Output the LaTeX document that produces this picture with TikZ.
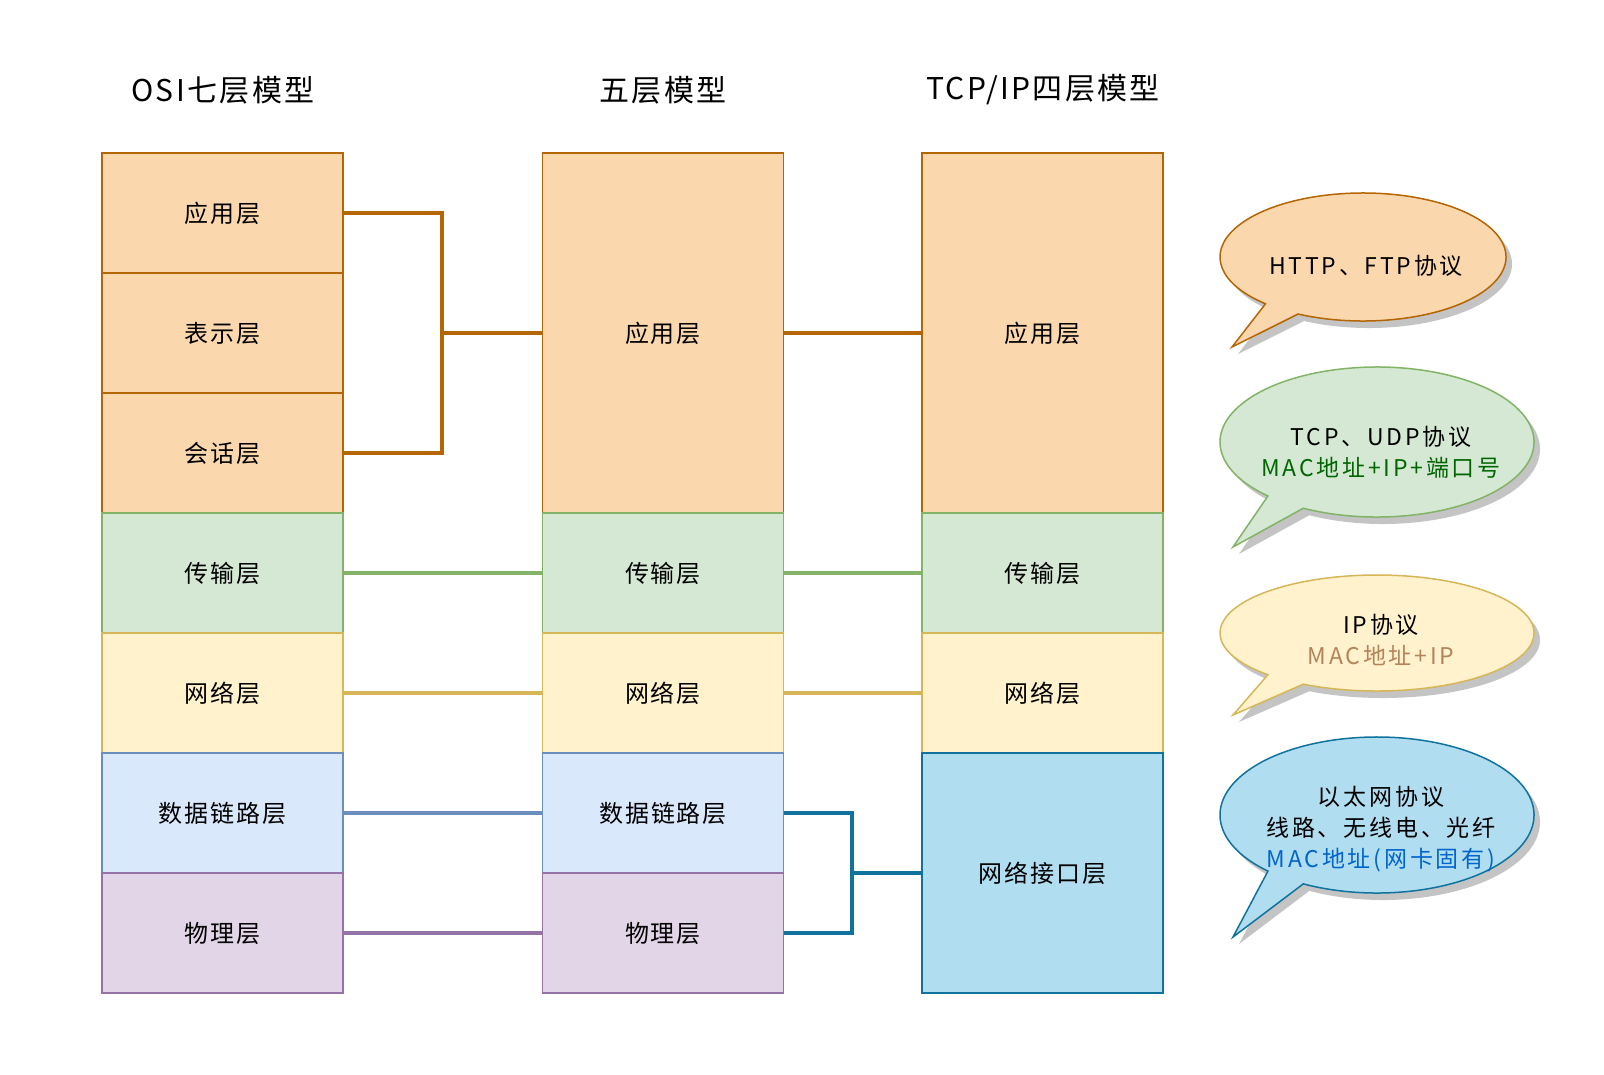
\documentclass[tikz,border=0pt]{standalone}
\usepackage{fontspec}
\setmainfont{Noto Sans CJK SC}
\newfontfamily\wideA[LetterSpace=8]{Noto Sans CJK SC}
\newfontfamily\wideB[LetterSpace=12]{Noto Sans CJK SC}
\usetikzlibrary{calc}
\definecolor{orF}{HTML}{FAD7AC}\definecolor{orD}{HTML}{B46504}
\definecolor{grF}{HTML}{D5E8D4}\definecolor{grD}{HTML}{82B366}
\definecolor{yeF}{HTML}{FFF2CC}\definecolor{yeD}{HTML}{D6B656}
\definecolor{blF}{HTML}{DAE8FC}\definecolor{blD}{HTML}{6C8EBF}
\definecolor{puF}{HTML}{E1D5E7}\definecolor{puD}{HTML}{9673A6}
\definecolor{cyF}{HTML}{B1DDF0}\definecolor{cyD}{HTML}{10739E}
\definecolor{txG}{HTML}{006600}
\definecolor{txB}{HTML}{B5835A}
\definecolor{txU}{HTML}{0066CC}
\definecolor{shad}{HTML}{C4C4C4}
% #1 cx #2 cy #3 rx #4 ry #5 tipx #6 tipy #7 a1 #8 a2 #9 style
\newcommand{\mybubble}[9]{%
  \fill[shad, shift={(6,7)}] ($(#1,#2)+({#3*cos(#7)},{#4*sin(#7)})$) -- (#5,#6)
    -- ($(#1,#2)+({#3*cos(#8)},{#4*sin(#8)})$)
    arc[start angle=#8, end angle=#7-360, x radius=#3, y radius=#4] -- cycle;
  \draw[#9] ($(#1,#2)+({#3*cos(#7)},{#4*sin(#7)})$) -- (#5,#6)
    -- ($(#1,#2)+({#3*cos(#8)},{#4*sin(#8)})$)
    arc[start angle=#8, end angle=#7-360, x radius=#3, y radius=#4] -- cycle;}
\begin{document}
\begin{tikzpicture}[x=1pt,y=-1pt,
  layer/.style={draw, rectangle, minimum width=241pt, minimum height=120pt,
    inner sep=0pt, line width=1.5pt, font=\wideA\fontsize{24}{27}\selectfont},
  title/.style={font=\wideA\fontsize{30}{34}\selectfont},
  link/.style={line width=3.2pt},
  ctext/.style={font=\wideB\fontsize{23}{31}\selectfont, align=center},
  bubble/.style={line width=1.5pt}]
\useasboundingbox (0,0) rectangle (1604,1074);

% titles
\node[title] (tOSI) at (223,90) {OSI七层模型};
\node[title] (tFive) at (663,90) {五层模型};
\node[title] (tTCP) at (1043,90) {TCP/IP四层模型};

% OSI column
\node[layer, fill=orF, draw=orD] (o1) at (222.5,213) {应用层};
\node[layer, fill=orF, draw=orD] (o2) at (222.5,333) {表示层};
\node[layer, fill=orF, draw=orD] (o3) at (222.5,453) {会话层};
\node[layer, fill=grF, draw=grD] (o4) at (222.5,573) {传输层};
\node[layer, fill=yeF, draw=yeD] (o5) at (222.5,693) {网络层};
\node[layer, fill=blF, draw=blD] (o6) at (222.5,813) {数据链路层};
\node[layer, fill=puF, draw=puD] (o7) at (222.5,933) {物理层};

% five-layer column
\node[layer, fill=orF, draw=orD, minimum height=360pt] (f1) at (663,333) {应用层};
\node[layer, fill=grF, draw=grD] (f4) at (663,573) {传输层};
\node[layer, fill=yeF, draw=yeD] (f5) at (663,693) {网络层};
\node[layer, fill=blF, draw=blD] (f6) at (663,813) {数据链路层};
\node[layer, fill=puF, draw=puD] (f7) at (663,933) {物理层};

% TCP/IP column
\node[layer, fill=orF, draw=orD, minimum height=360pt] (t1) at (1042.5,333) {应用层};
\node[layer, fill=grF, draw=grD] (t4) at (1042.5,573) {传输层};
\node[layer, fill=yeF, draw=yeD] (t5) at (1042.5,693) {网络层};
\node[layer, fill=cyF, draw=cyD, minimum height=240pt] (t6) at (1042.5,873) {网络接口层};

% connectors
\coordinate (ob) at (442,333);
\draw[link, orD] (o1.east) -| (ob) |- (o3.east);
\draw[link, orD] (ob) -- (f1.west);
\draw[link, orD] (f1.east) -- (t1.west);
\draw[link, grD] (o4.east) -- (f4.west);
\draw[link, grD] (f4.east) -- (t4.west);
\draw[link, yeD] (o5.east) -- (f5.west);
\draw[link, yeD] (f5.east) -- (t5.west);
\draw[link, blD] (o6.east) -- (f6.west);
\draw[link, puD] (o7.east) -- (f7.west);
\coordinate (fb) at (852,873);
\draw[link, cyD] (f6.east) -| (fb) |- (f7.east);
\draw[link, cyD] (fb) -- (t6.west);

% callouts
\mybubble{1363}{257}{143}{64}{1232}{347}{133}{117}{bubble, fill=orF, draw=orD}
\mybubble{1377}{442}{157}{75}{1233}{547}{134}{118}{bubble, fill=grF, draw=grD}
\mybubble{1377}{633}{157}{58}{1233}{715}{134}{118}{bubble, fill=yeF, draw=yeD}
\mybubble{1377}{815}{157}{78}{1233}{937}{134}{118}{bubble, fill=cyF, draw=cyD}

\node[ctext] (c1) at (1366,266) {HTTP、FTP协议};
\node[ctext] (c2) at (1381,452) {TCP、UDP协议\\\textcolor{txG}{MAC地址+IP+端口号}};
\node[ctext] (c3) at (1381,640) {IP协议\\\textcolor{txB}{MAC地址+IP}};
\node[ctext] (c4) at (1381,829) {以太网协议\\线路、无线电、光纤\\\textcolor{txU}{MAC地址(网卡固有)}};
\end{tikzpicture}
\end{document}
